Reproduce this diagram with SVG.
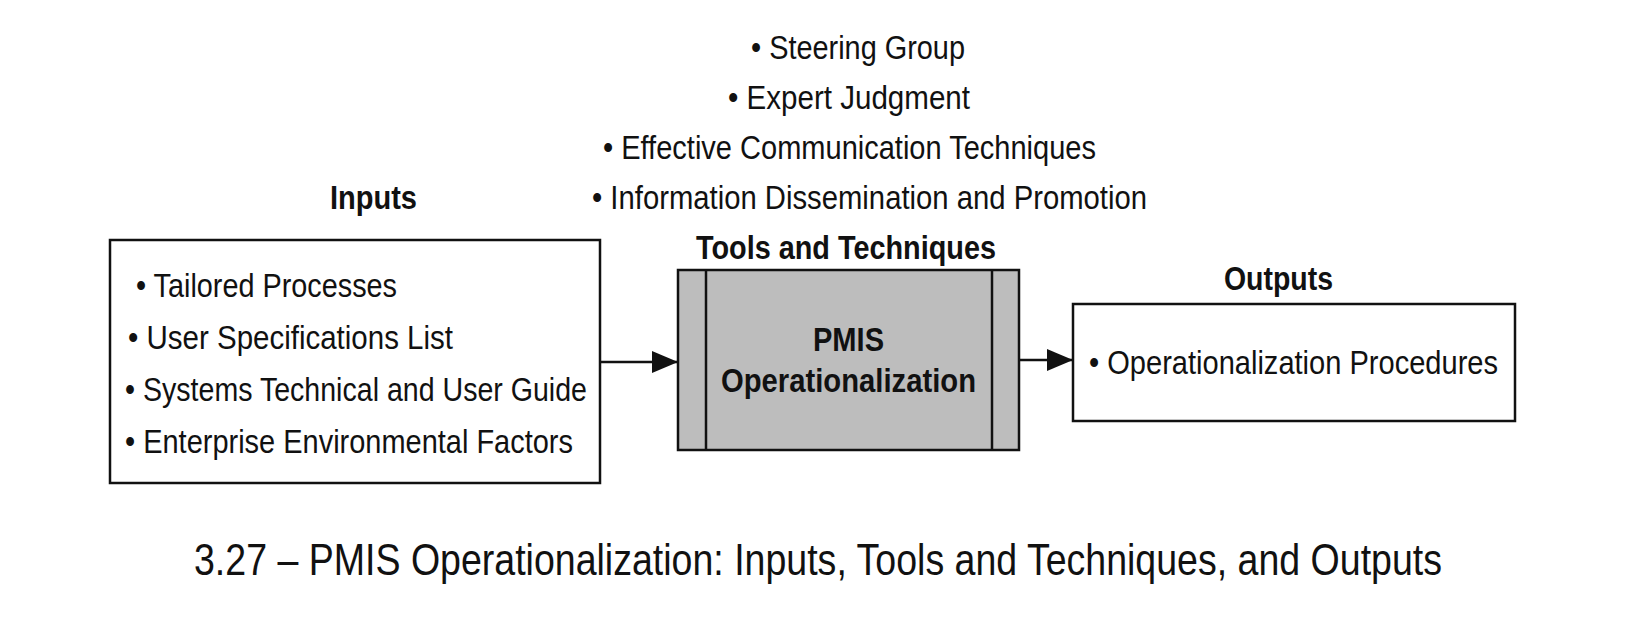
<svg xmlns="http://www.w3.org/2000/svg" width="1636" height="640" viewBox="0 0 1636 640">
<style>
text{font-family:"Liberation Sans",Arial,sans-serif;fill:#111}
.t{font-size:34px}
.b{font-size:34px;font-weight:bold}
.c{font-size:45px}
.box{fill:#fff;stroke:#111;stroke-width:2.5}
.tool{fill:#bdbdbd;stroke:#111;stroke-width:2.5}
.ln{stroke:#111;stroke-width:2.5;fill:none}
</style>
<defs><marker id="ah" markerWidth="26" markerHeight="22" refX="25" refY="11" orient="auto" markerUnits="userSpaceOnUse" viewBox="0 0 26 22"><path d="M0,0L26,11L0,22z" fill="#111"/></marker></defs>
<rect width="1636" height="640" fill="#fff"/>
<g id="tools-list">
<text class="t" x="751" y="59" textLength="214" lengthAdjust="spacingAndGlyphs">• Steering Group</text>
<text class="t" x="728" y="109" textLength="242" lengthAdjust="spacingAndGlyphs">• Expert Judgment</text>
<text class="t" x="603" y="159" textLength="493" lengthAdjust="spacingAndGlyphs">• Effective Communication Techniques</text>
<text class="t" x="592" y="209" textLength="555" lengthAdjust="spacingAndGlyphs">• Information Dissemination and Promotion</text>
</g>
<g id="inputs">
<text class="b" x="330" y="209" textLength="87" lengthAdjust="spacingAndGlyphs">Inputs</text>
<rect class="box" x="110" y="240" width="490" height="243"/>
<text class="t" x="136" y="297" textLength="261" lengthAdjust="spacingAndGlyphs">• Tailored Processes</text>
<text class="t" x="128" y="349" textLength="325" lengthAdjust="spacingAndGlyphs">• User Specifications List</text>
<text class="t" x="125" y="401" textLength="462" lengthAdjust="spacingAndGlyphs">• Systems Technical and User Guide</text>
<text class="t" x="125" y="453" textLength="448" lengthAdjust="spacingAndGlyphs">• Enterprise Environmental Factors</text>
</g>
<g id="tools">
<text class="b" x="696" y="259" textLength="300" lengthAdjust="spacingAndGlyphs">Tools and Techniques</text>
<rect class="tool" x="678" y="270" width="341" height="180"/>
<line class="ln" x1="706" y1="270" x2="706" y2="450"/>
<line class="ln" x1="992" y1="270" x2="992" y2="450"/>
<text class="b" x="813" y="351" textLength="71" lengthAdjust="spacingAndGlyphs">PMIS</text>
<text class="b" x="721" y="392" textLength="255" lengthAdjust="spacingAndGlyphs">Operationalization</text>
</g>
<g id="outputs">
<text class="b" x="1224" y="290" textLength="109" lengthAdjust="spacingAndGlyphs">Outputs</text>
<rect class="box" x="1073" y="304" width="442" height="117"/>
<text class="t" x="1089" y="374" textLength="409" lengthAdjust="spacingAndGlyphs">• Operationalization Procedures</text>
</g>
<g id="connectors">
<line class="ln" x1="600" y1="362" x2="677" y2="362" marker-end="url(#ah)"/>
<line class="ln" x1="1019" y1="360" x2="1072" y2="360" marker-end="url(#ah)"/>
</g>
<text class="c" x="194" y="575" textLength="1248" lengthAdjust="spacingAndGlyphs">3.27 – PMIS Operationalization: Inputs, Tools and Techniques, and Outputs</text>
</svg>
